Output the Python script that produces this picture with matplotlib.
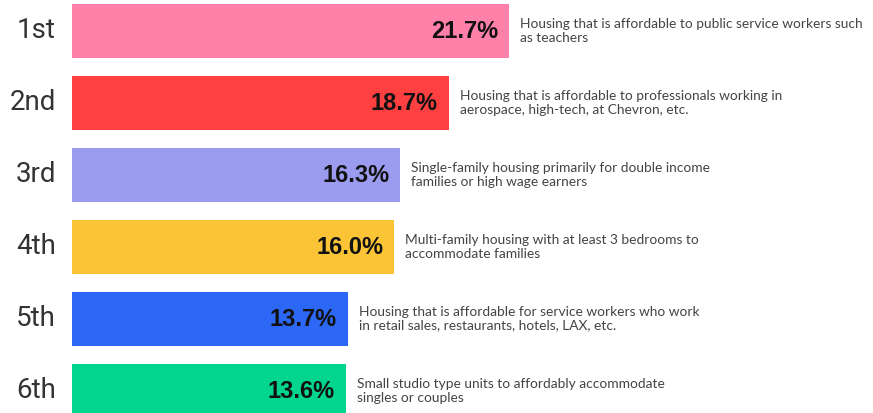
import matplotlib
matplotlib.use('Agg')
import matplotlib.pyplot as plt

ranks = ["1st", "2nd", "3rd", "4th", "5th", "6th"]
shares = [21.7, 18.7, 16.3, 16.0, 13.7, 13.6]
descriptions = [
    "Housing that is affordable to public service workers such\nas teachers",
    "Housing that is affordable to professionals working in\naerospace, high-tech, at Chevron, etc.",
    "Single-family housing primarily for double income\nfamilies or high wage earners",
    "Multi-family housing with at least 3 bedrooms to\naccommodate families",
    "Housing that is affordable for service workers who work\nin retail sales, restaurants, hotels, LAX, etc.",
    "Small studio type units to affordably accommodate\nsingles or couples",
]
colors = ["#ff80a8", "#ff4040", "#9b9cf0", "#fbc437", "#2c67f6", "#02d68e"]

W, H = 873, 413
fig = plt.figure(figsize=(W / 100, H / 100), dpi=100)
x0 = 72
ax = fig.add_axes([x0 / W, 0, 1 - x0 / W, 1])

px_per_unit = 20.14
ax.set_xlim(0, (W - x0) / px_per_unit)
pitch, c0 = 72, 31
ax.set_ylim((H - c0) / pitch, -c0 / pitch)
ax.axis('off')

ypos = list(range(len(shares)))
ax.barh(ypos, shares, height=0.75, color=colors)

gap = 11 / px_per_unit
for i, v in enumerate(shares):
    ax.text(v - gap, i, f"{v:.1f}%", ha='right', va='center', fontsize=17,
            fontweight='bold', family='Liberation Sans', color='#111111')
    ax.text(v + gap, i, descriptions[i], ha='left', va='center', fontsize=9.9,
            family='Lato', color='#444444', linespacing=1.1)
    fig.text(56 / W, 1 - (c0 + pitch * i) / H, ranks[i], ha='right', va='center',
             fontsize=20, family='Roboto', color='#333333')

fig.savefig('out.png', dpi=100, facecolor='white')
